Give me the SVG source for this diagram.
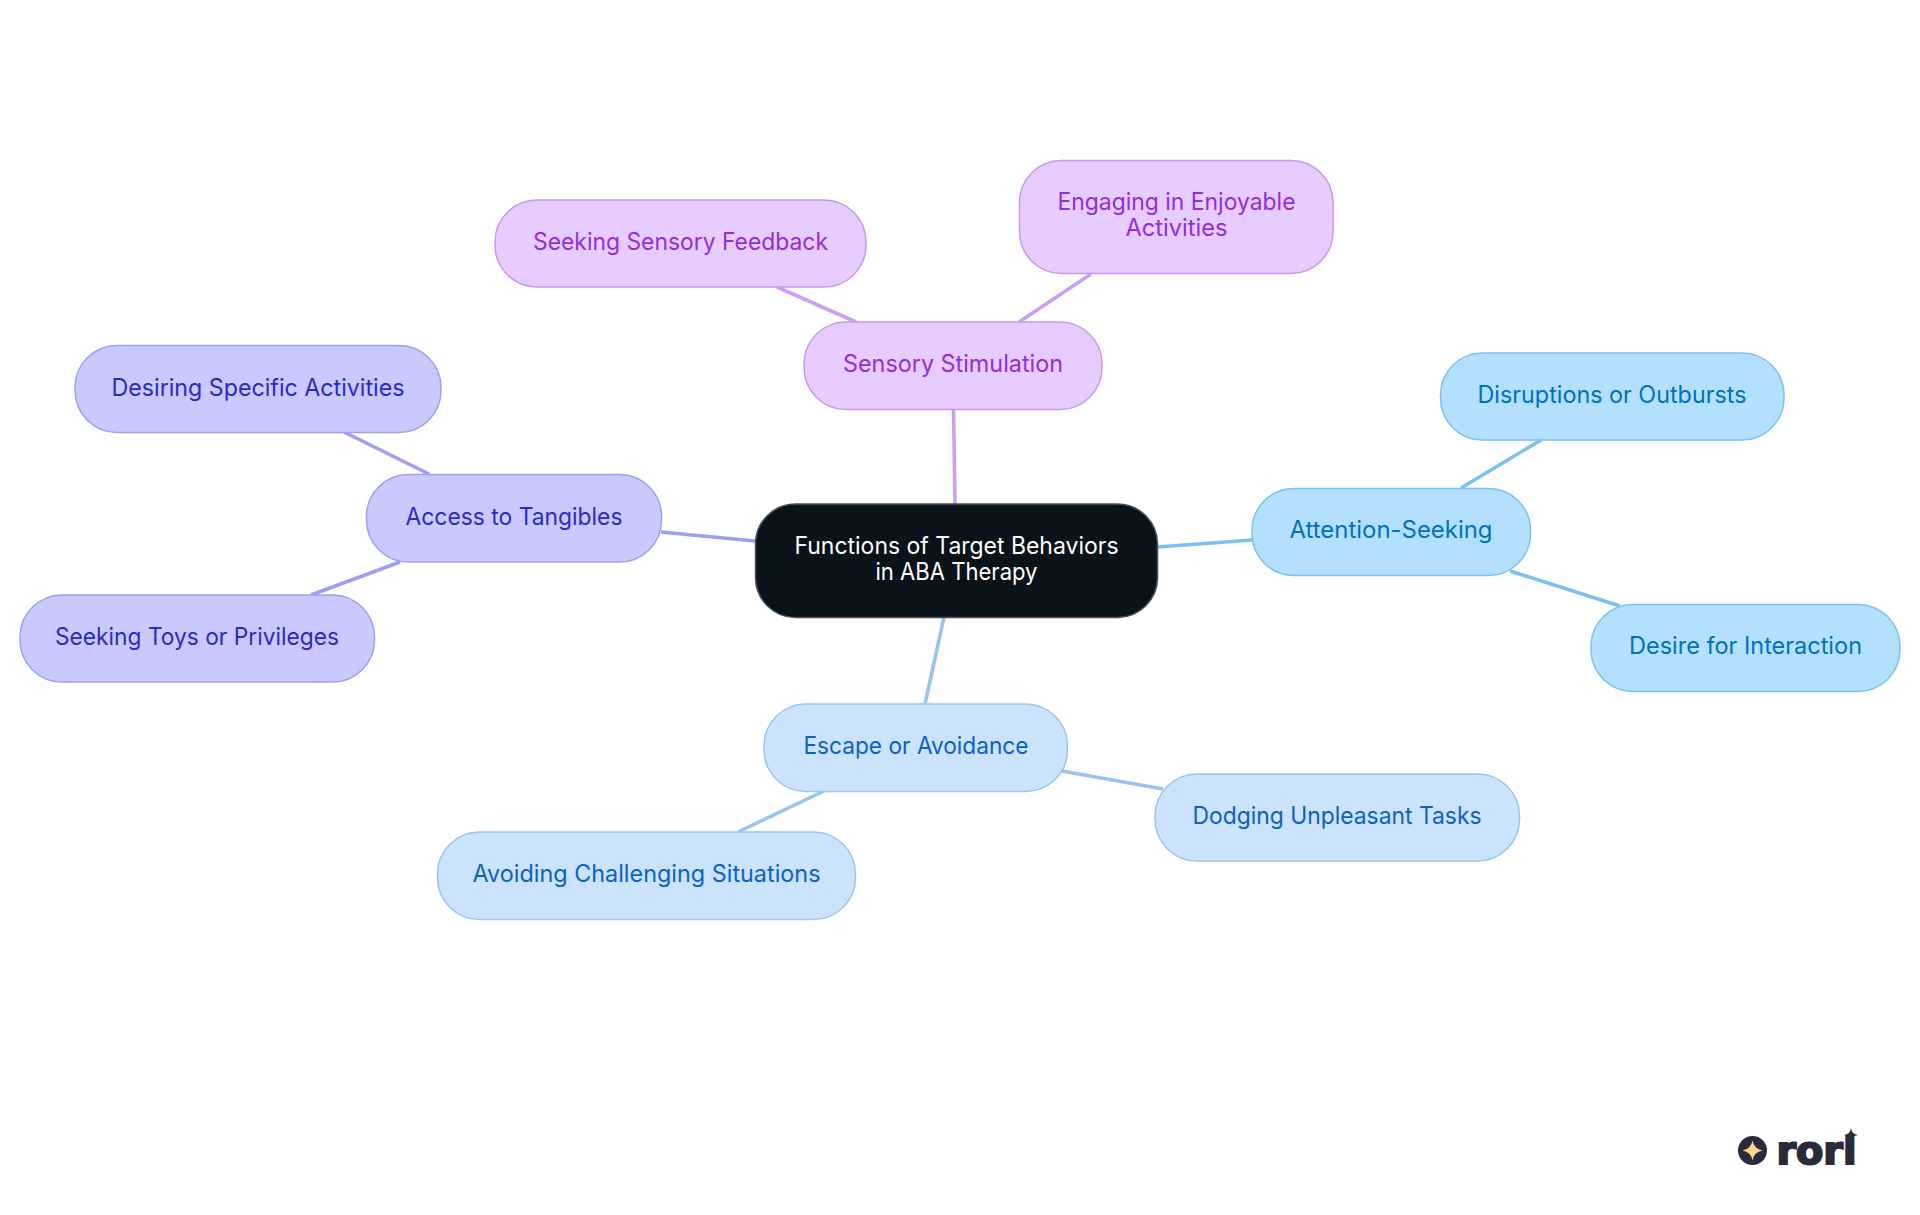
<svg xmlns="http://www.w3.org/2000/svg" width="1920" height="1215" viewBox="0 0 1920 1215">
<style>
text{font-family:"Inter","Noto Sans",sans-serif;font-size:24px;font-weight:400;text-anchor:middle}
.l{fill:none;stroke-width:3.6}
.n{stroke-width:1.5}
.c rect{fill:#0a121a;stroke:#4b5056}.c text{fill:#fff}
.p rect{fill:#e6ccff;stroke:#c898f0}.p text{fill:#932ed9}.pl{stroke:#cb9ff2}
.b rect{fill:#b3e0ff;stroke:#7cc0f2}.b text{fill:#0070c0}.bl{stroke:#7cc0f2}
.s rect{fill:#cce3fd;stroke:#99c4f2}.s text{fill:#0b62c4}.sl{stroke:#99c4f2}
.i rect{fill:#c9c9fd;stroke:#9e9ef2}.i text{fill:#2b2bc4}.il{stroke:#9e9ef2}
</style>
<rect width="1920" height="1215" fill="#fff"/>
<g id="connectors">
<line class="l pl" x1="953.5" y1="409" x2="955" y2="504"/>
<line class="l bl" x1="1157" y1="547" x2="1252" y2="540"/>
<line class="l sl" x1="944" y1="617" x2="925" y2="704"/>
<line class="l il" x1="755" y1="541" x2="661" y2="532"/>
<line class="l pl" x1="856" y1="322" x2="777" y2="287"/>
<line class="l pl" x1="1019" y1="322" x2="1091" y2="274"/>
<line class="l bl" x1="1461" y1="488" x2="1541" y2="440"/>
<line class="l bl" x1="1510" y1="571" x2="1620" y2="606"/>
<line class="l sl" x1="1062" y1="771" x2="1163" y2="789"/>
<line class="l sl" x1="824" y1="791" x2="738" y2="832"/>
<line class="l il" x1="429" y1="474" x2="344" y2="432"/>
<line class="l il" x1="400" y1="562" x2="311" y2="595"/>
</g>
<g id="center" class="c"><rect class="n" x="755.5" y="504" width="402" height="113.5" rx="40"/><text x="956.5" y="554" textLength="324" lengthAdjust="spacingAndGlyphs">Functions of Target Behaviors</text><text x="956.5" y="580" textLength="162" lengthAdjust="spacingAndGlyphs">in ABA Therapy</text></g>
<g id="sensory" class="p"><rect class="n" x="804" y="322" width="298" height="87.5" rx="42"/><text x="953" y="372" textLength="220" lengthAdjust="spacingAndGlyphs">Sensory Stimulation</text></g>
<g id="seeking-feedback" class="p"><rect class="n" x="495" y="200" width="371" height="87" rx="42"/><text x="680.5" y="250" textLength="295" lengthAdjust="spacingAndGlyphs">Seeking Sensory Feedback</text></g>
<g id="engaging" class="p"><rect class="n" x="1019.5" y="160.500" width="313.500" height="113" rx="42"/><text x="1176.500" y="210" textLength="238" lengthAdjust="spacingAndGlyphs">Engaging in Enjoyable</text><text x="1176.500" y="236" textLength="102" lengthAdjust="spacingAndGlyphs">Activities</text></g>
<g id="access" class="i"><rect class="n" x="366.500" y="474.500" width="295" height="87.500" rx="42"/><text x="514" y="525" textLength="217" lengthAdjust="spacingAndGlyphs">Access to Tangibles</text></g>
<g id="desiring" class="i"><rect class="n" x="75" y="345.500" width="366" height="87" rx="42"/><text x="258" y="396" textLength="293" lengthAdjust="spacingAndGlyphs">Desiring Specific Activities</text></g>
<g id="toys" class="i"><rect class="n" x="20" y="595" width="354.500" height="87" rx="42"/><text x="197" y="645" textLength="284" lengthAdjust="spacingAndGlyphs">Seeking Toys or Privileges</text></g>
<g id="attention" class="b"><rect class="n" x="1252" y="488.500" width="278.500" height="87" rx="42"/><text x="1391" y="538" textLength="203" lengthAdjust="spacingAndGlyphs">Attention-Seeking</text></g>
<g id="disruptions" class="b"><rect class="n" x="1440.500" y="353" width="343.500" height="87" rx="42"/><text x="1612" y="403" textLength="269" lengthAdjust="spacingAndGlyphs">Disruptions or Outbursts</text></g>
<g id="desire" class="b"><rect class="n" x="1591" y="604.500" width="309" height="87" rx="42"/><text x="1745.500" y="654" textLength="233" lengthAdjust="spacingAndGlyphs">Desire for Interaction</text></g>
<g id="escape" class="s"><rect class="n" x="764" y="704" width="303.500" height="87.500" rx="42"/><text x="916" y="754" textLength="225" lengthAdjust="spacingAndGlyphs">Escape or Avoidance</text></g>
<g id="dodging" class="s"><rect class="n" x="1155" y="774" width="364.500" height="87" rx="42"/><text x="1337" y="824" textLength="289" lengthAdjust="spacingAndGlyphs">Dodging Unpleasant Tasks</text></g>
<g id="avoiding" class="s"><rect class="n" x="437.500" y="832" width="418" height="87.500" rx="42"/><text x="646.500" y="882" textLength="348" lengthAdjust="spacingAndGlyphs">Avoiding Challenging Situations</text></g>
<g id="logo">
<circle cx="1752.500" cy="1150.500" r="14.500" fill="#2a2a3a"/>
<path d="M1752.500 1140.500Q1754 1149 1762.500 1150.500Q1754 1152 1752.500 1160.500Q1751 1152 1742.500 1150.500Q1751 1149 1752.500 1140.500Z" fill="#fbd98a"/>
<text x="1816.500" y="1164" textLength="80" lengthAdjust="spacingAndGlyphs" style="font-family:'DejaVu Sans',sans-serif;font-weight:700;font-size:38px;fill:#2a2a3a;stroke:#2a2a3a;stroke-width:2">rori</text>
<path d="M1851 1128Q1851.800 1134.200 1858 1135Q1851.800 1135.800 1851 1142Q1850.200 1135.800 1844 1135Q1850.200 1134.200 1851 1128Z" fill="#2a2a3a"/>
</g>
</svg>
